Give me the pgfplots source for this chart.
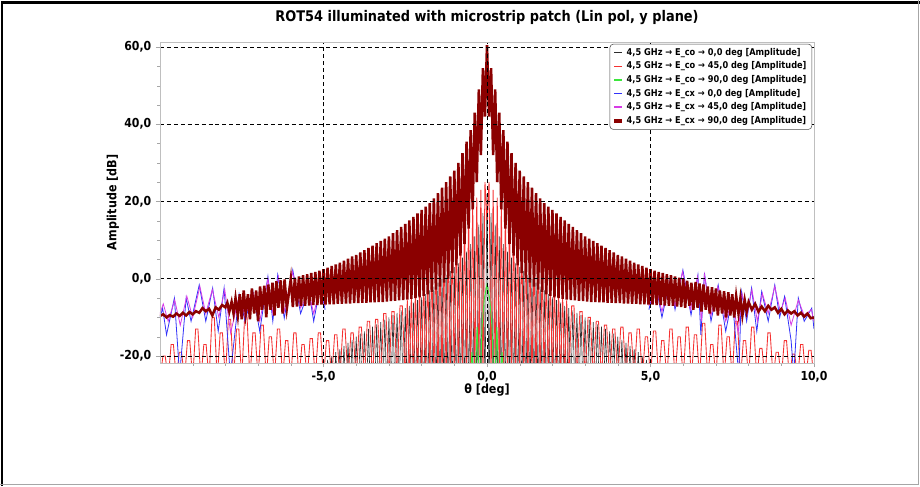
\documentclass[border=0pt]{standalone}
\usepackage{fontspec}
\setmainfont{DejaVu Sans}[FakeStretch=0.88]
\usepackage{pgfplots}
\pgfplotsset{compat=1.18}
\pgfplotsset{thicklegend/.style={legend image code/.code={\draw[##1, line width=2.6pt] (0pt,0pt) -- (6pt,0pt);}}}
\definecolor{cblack}{RGB}{45,45,45}
\definecolor{cred}{RGB}{245,50,50}
\definecolor{cgreen}{RGB}{60,230,60}
\definecolor{cblue}{RGB}{50,50,250}
\definecolor{cmag}{RGB}{215,60,230}
\definecolor{cdred}{RGB}{139,0,0}
\begin{document}
\begin{tikzpicture}
\path[use as bounding box] (-120pt,-92.25pt) rectangle (570pt,272.25pt);
\fill[white] (-120pt,-92.25pt) rectangle (570pt,272.25pt);
\begin{axis}[
 scale only axis, width=490.5pt, height=240.75pt,
 at={(0pt,0pt)}, anchor=south west,
 xmin=-10, xmax=10, ymin=-21.8, ymax=61.3,
 xtick={-5,0,5,10}, xticklabels={{-5,0},{0,0},{5,0},{10,0}},
 ytick={-20,0,20,40,60}, yticklabels={{-20,0},{0,0},{20,0},{40,0},{60,0}},
 minor xtick={-9,-8,...,9}, minor ytick={-15,-10,...,55},
 tick label style={font=\bfseries\fontsize{9.3}{10}\selectfont},
 grid=major,
 major grid style={black, dash pattern=on 3pt off 2.2pt, line width=0.6pt},
 axis on top,
 axis line style={gray!50},
 tick style={gray!70},
 tick align=outside, tick pos=left, major tick length=3pt, minor tick length=2pt,
 title={ROT54 illuminated with microstrip patch (Lin pol, y plane)},
 every axis title/.style={at={(0.5,1.0748)}, anchor=center, font=\bfseries\fontsize{11}{12}\selectfont},
 xlabel={θ [deg]}, ylabel={Amplitude [dB]},
 xlabel style={at={(0.5,-0.0841)}, anchor=center},
 ylabel style={at={(-0.0719,0.5)}, anchor=center},
 label style={font=\bfseries\fontsize{9.5}{11}\selectfont},
 legend style={at={(0.997,0.994)}, anchor=north east, draw=gray!60!black, rounded corners=2.5pt,
   font=\bfseries\fontsize{7}{8}\selectfont, inner xsep=2pt, inner ysep=1pt, row sep=-0.6pt},
 legend cell align=left,
 legend image code/.code={\draw[#1, line width=1.1pt] (0pt,0pt) -- (6pt,0pt);},
 unbounded coords=jump,
]
% E_co 0 deg
\addplot[cblack, line width=0.45pt] coordinates {
(-5,-22)(-4.9375,-30)(-4.875,-21)(-4.8125,-30)(-4.75,-20)(-4.6875,-30)(-4.625,-19)(-4.5625,-30)(-4.5,-18.2)(-4.4375,-30)(-4.375,-17.4)(-4.3125,-30)(-4.25,-16.6)(-4.1875,-30)(-4.125,-15.8)(-4.0625,-30)(-4,-15)(-3.9375,-30)(-3.875,-14.2)(-3.8125,-30)(-3.75,-13.6)(-3.6875,-30)(-3.625,-13)(-3.5625,-30)(-3.5,-12.4)(-3.4375,-30)(-3.375,-11.8)(-3.3125,-30)(-3.25,-11.2)(-3.1875,-30)(-3.125,-10.6)(-3.0625,-30)(-3,-10)(-2.9375,-30)(-2.875,-9.4)(-2.8125,-30)(-2.75,-8.8)(-2.6875,-30)(-2.625,-8.2)(-2.5625,-30)(-2.5,-7.6)(-2.4375,-30)(-2.375,-7)(-2.3125,-30)(-2.25,-6.2)(-2.1875,-30)(-2.125,-5.5)(-2.0625,-30)(-2,-4.8)(-1.9375,-30)(-1.875,-4)(-1.8125,-30)(-1.75,-3)(-1.6875,-30)(-1.625,-2)(-1.5625,-30)(-1.5,-1)(-1.4375,-30)(-1.375,0)(-1.3125,-30)(-1.25,1)(-1.1875,-30)(-1.125,2)(-1.0625,-30)(-1,3)(-0.9375,-30)(-0.875,4)(-0.8125,-30)(-0.75,5.5)(-0.6875,-30)(-0.625,7)(-0.5625,-30)(-0.5,9)(-0.4375,-30)(-0.375,11)(-0.3125,-30)(-0.25,14)(-0.1875,-30)(-0.125,17)(-0.0625,-30)(0,22)
(0.0625,-30)(0.125,17)(0.1875,-30)(0.25,14)(0.3125,-30)(0.375,11)(0.4375,-30)(0.5,9)(0.5625,-30)(0.625,7)(0.6875,-30)(0.75,5.5)(0.8125,-30)(0.875,4)(0.9375,-30)(1,3)(1.0625,-30)(1.125,2)(1.1875,-30)(1.25,1)(1.3125,-30)(1.375,0)(1.4375,-30)(1.5,-1)(1.5625,-30)(1.625,-2)(1.6875,-30)(1.75,-3)(1.8125,-30)(1.875,-4)(1.9375,-30)(2,-4.8)(2.0625,-30)(2.125,-5.5)(2.1875,-30)(2.25,-6.2)(2.3125,-30)(2.375,-7)(2.4375,-30)(2.5,-7.6)(2.5625,-30)(2.625,-8.2)(2.6875,-30)(2.75,-8.8)(2.8125,-30)(2.875,-9.4)(2.9375,-30)(3,-10)(3.0625,-30)(3.125,-10.6)(3.1875,-30)(3.25,-11.2)(3.3125,-30)(3.375,-11.8)(3.4375,-30)(3.5,-12.4)(3.5625,-30)(3.625,-13)(3.6875,-30)(3.75,-13.6)(3.8125,-30)(3.875,-14.2)(3.9375,-30)(4,-15)(4.0625,-30)(4.125,-15.8)(4.1875,-30)(4.25,-16.6)(4.3125,-30)(4.375,-17.4)(4.4375,-30)(4.5,-18.2)(4.5625,-30)(4.625,-19)(4.6875,-30)(4.75,-20)(4.8125,-30)(4.875,-21)(4.9375,-30)(5,-22)
};
\addlegendentry{4,5 GHz → E\_co → 0,0 deg [Amplitude]}
% E_co 45 deg
\addplot[cred, line width=0.65pt] coordinates {
(-10,-26)(-9.91,-20)(-9.84,-20)(-9.75,-26)(-9.66,-17)(-9.59,-17)(-9.5,-26)(-9.41,-19)(-9.34,-19)(-9.25,-26)(-9.16,-16)(-9.09,-16)(-9,-26)(-8.91,-13)(-8.84,-13)(-8.75,-26)(-8.66,-17)(-8.59,-17)(-8.5,-26)(-8.41,-10)(-8.34,-10)(-8.25,-26)(-8.16,-14)(-8.09,-14)(-8,-26)(-7.91,-10.5)(-7.84,-10.5)(-7.75,-26)(-7.66,-13)(-7.59,-13)(-7.5,-26)(-7.41,-9.5)(-7.34,-9.5)(-7.25,-26)(-7.16,-14)(-7.09,-14)(-7,-26)(-6.91,-12)(-6.84,-12)(-6.75,-26)(-6.66,-15)(-6.59,-15)(-6.5,-26)(-6.41,-13)(-6.34,-13)(-6.25,-26)(-6.16,-16)(-6.09,-16)(-6,-26)(-5.91,-14)(-5.84,-14)(-5.75,-26)(-5.66,-17)(-5.59,-17)(-5.5,-26)(-5.41,-15.5)(-5.34,-15.5)(-5.25,-26)(-5.16,-14)(-5.09,-14)(-5,-26)(-4.91,-16)(-4.84,-16)(-4.75,-26)(-4.66,-14.5)(-4.59,-14.5)(-4.5,-26)(-4.41,-13)(-4.34,-13)(-4.25,-26)(-4.16,-14)(-4.09,-14)(-4,-26)(-3.91,-12.5)(-3.84,-12.5)(-3.75,-26)(-3.66,-11)(-3.59,-11)(-3.5,-26)(-3.41,-10.5)(-3.34,-10.5)(-3.25,-26)(-3.16,-9)(-3.09,-9)(-3,-26)(-2.91,-8.5)(-2.84,-8.5)(-2.75,-26)(-2.66,-7)(-2.59,-7)(-2.5,-26)
(-2.4375,-5.5)(-2.375,-26)(-2.3125,-4)(-2.25,-26)(-2.1875,-2.5)(-2.125,-26)(-2.0625,-1)(-2,-26)(-1.9375,0.5)(-1.875,-26)(-1.8125,2)(-1.75,-26)(-1.6875,3.5)(-1.625,-26)(-1.5625,5)(-1.5,-26)(-1.4375,6.5)(-1.375,-26)(-1.3125,8)(-1.25,-26)(-1.1875,9.5)(-1.125,-26)(-1.0625,11)(-1,-26)(-0.9375,12.5)(-0.875,-26)(-0.8125,14)(-0.75,-26)(-0.6875,15.5)(-0.625,-26)(-0.5625,17)(-0.5,-26)(-0.4375,19)(-0.375,-26)(-0.3125,21)(-0.25,-26)(-0.1875,23)(-0.125,-26)(-0.0625,25)(0,15)
(0.0625,25)(0.125,-26)(0.1875,23)(0.25,-26)(0.3125,21)(0.375,-26)(0.4375,19)(0.5,-26)(0.5625,17)(0.625,-26)(0.6875,15.5)(0.75,-26)(0.8125,14)(0.875,-26)(0.9375,12.5)(1,-26)(1.0625,11)(1.125,-26)(1.1875,9.5)(1.25,-26)(1.3125,8)(1.375,-26)(1.4375,6.5)(1.5,-26)(1.5625,5)(1.625,-26)(1.6875,3.5)(1.75,-26)(1.8125,2)(1.875,-26)(1.9375,0.5)(2,-26)(2.0625,-1)(2.125,-26)(2.1875,-2.5)(2.25,-26)(2.3125,-4)(2.375,-26)(2.4375,-5.5)(2.5,-26)
(2.59,-7)(2.66,-7)(2.75,-26)(2.84,-8.5)(2.91,-8.5)(3,-26)(3.09,-10)(3.16,-10)(3.25,-26)(3.34,-11)(3.41,-11)(3.5,-26)(3.59,-12)(3.66,-12)(3.75,-26)(3.84,-13)(3.91,-13)(4,-26)(4.09,-12.5)(4.16,-12.5)(4.25,-26)(4.34,-14)(4.41,-14)(4.5,-26)(4.59,-13)(4.66,-13)(4.75,-26)(4.84,-15)(4.91,-15)(5,-26)(5.09,-13.5)(5.16,-13.5)(5.25,-26)(5.34,-16)(5.41,-16)(5.5,-26)(5.59,-13)(5.66,-13)(5.75,-26)(5.84,-15)(5.91,-15)(6,-26)(6.09,-12.5)(6.16,-12.5)(6.25,-26)(6.34,-14.5)(6.41,-14.5)(6.5,-26)(6.59,-11.5)(6.66,-11.5)(6.75,-26)(6.84,-17)(6.91,-17)(7,-26)(7.09,-12)(7.16,-12)(7.25,-26)(7.34,-15)(7.41,-15)(7.5,-26)(7.59,-11)(7.66,-11)(7.75,-26)(7.84,-16)(7.91,-16)(8,-26)(8.09,-12.5)(8.16,-12.5)(8.25,-26)(8.34,-18)(8.41,-18)(8.5,-26)(8.59,-14)(8.66,-14)(8.75,-26)(8.84,-19)(8.91,-19)(9,-26)(9.09,-16)(9.16,-16)(9.25,-26)(9.34,-19.5)(9.41,-19.5)(9.5,-26)(9.59,-17)(9.66,-17)(9.75,-26)(9.84,-18.5)(9.91,-18.5)(10,-26)
};
\addlegendentry{4,5 GHz → E\_co → 45,0 deg [Amplitude]}
% E_co 90 deg
\addplot[cgreen, line width=0.7pt] coordinates {
(-0.55,-30)(-0.46,-19)(-0.38,-30)(-0.3,-12.5)(-0.22,-30)(-0.15,-12)(-0.08,-5)(0,-1.5)(0.08,-5)(0.15,-12)(0.22,-30)(0.3,-12.5)(0.38,-30)(0.46,-19)(0.55,-30)
};
\addlegendentry{4,5 GHz → E\_co → 90,0 deg [Amplitude]}
% E_cx 0 deg
\addplot[cblue, line width=0.6pt] coordinates {
(-10,-10)(-9.92,-7.6)(-9.8,-14.5)(-9.56,-5)(-9.4,-25)(-9.2,-5)(-9.05,-11)(-8.8,-1.6)(-8.6,-11)(-8.39,-2.4)(-8.22,-13.6)(-8.04,-2.4)(-7.85,-25)(-7.58,-4)(-7.4,-11)(-7.16,-3.3)(-6.95,-13.6)(-6.7,0.6)(-6.55,-11)(-6.4,1)(-6.2,-10.2)(-5.94,2.3)(-5.7,-9)(-5.45,-3)(-5.3,-11)(-5.1,-2)(-4.95,-8)
(0,nan)
(4.95,-8)(5.15,-1)(5.35,-10)(5.6,0)(5.75,-8)(5.99,2.3)(6.24,-9.4)(6.45,1)(6.54,-14.5)(6.65,1.5)(6.85,-11)(7.07,-1.6)(7.3,-13.6)(7.5,-5)(7.7,-25)(7.78,-3.3)(7.94,-11)(8.09,-2.4)(8.25,-13.6)(8.4,-3.3)(8.6,-11)(8.8,-1.6)(8.95,-10)(9.1,-4.6)(9.3,-16)(9.38,-25)(9.52,-5)(9.7,-11)(9.93,-7.6)(10,-13)
};
\addlegendentry{4,5 GHz → E\_cx → 0,0 deg [Amplitude]}
% E_cx 45 deg
\addplot[cmag, line width=0.6pt] coordinates {
(-10,-9)(-9.9,-6.5)(-9.75,-11)(-9.55,-5.5)(-9.38,-12)(-9.18,-4.5)(-9,-10)(-8.78,-2)(-8.6,-9)(-8.4,-2.8)(-8.2,-10)(-8.02,-2.8)(-7.84,-14)(-7.58,-4.5)(-7.4,-9.5)(-7.15,-3.8)(-6.95,-11)(-6.7,0)(-6.55,-9)(-6.38,0.5)(-6.2,-8.5)(-5.95,1.8)(-5.7,-7.5)(-5.45,-3.5)(-5.3,-9)(-5.1,-2.5)(-4.95,-7)
(0,nan)
(4.95,-7)(5.15,-1.5)(5.35,-8.5)(5.6,-0.5)(5.75,-7)(5.98,1.8)(6.22,-8)(6.44,0.5)(6.56,-11)(6.65,1)(6.85,-9.5)(7.06,-2)(7.3,-11)(7.5,-5.5)(7.68,-14)(7.8,-3.8)(7.95,-9.5)(8.1,-2.8)(8.27,-11)(8.42,-3.8)(8.6,-9)(8.8,-2)(8.97,-8.5)(9.12,-5)(9.3,-12)(9.52,-5.5)(9.7,-9.5)(9.92,-8)(10,-11)
};
\addlegendentry{4,5 GHz → E\_cx → 45,0 deg [Amplitude]}
% E_cx 90 deg
\addplot[cdred, line width=1.9pt, thicklegend] coordinates {
(-10,-9.6)(-9.9,-9.2)(-9.8,-10)(-9.7,-9.4)(-9.6,-9.8)(-9.5,-9)(-9.4,-9.6)(-9.3,-8.8)(-9.2,-9.5)(-9.1,-8.6)(-9,-9.2)(-8.9,-8.4)(-8.8,-8.8)(-8.7,-7.6)(-8.6,-8.4)(-8.5,-7.8)(-8.4,-9.5)(-8.3,-7.4)(-8.2,-8)(-8.1,-6.8)(-8,-7.4)(-7.94,-6.2)(-7.88,-8.5)(-7.81,-6)(-7.75,-9)(-7.69,-5)(-7.62,-9.5)(-7.56,-4)(-7.5,-10.5)(-7.44,-3)(-7.38,-9)(-7.31,-4)(-7.25,-10.5)(-7.19,-2.5)(-7.12,-9)(-7.06,-3)(-7,-11)(-6.94,-2)(-6.88,-8)(-6.81,-1.8)(-6.75,-10)(-6.69,-1.5)(-6.62,-8)(-6.56,-1)(-6.5,-9.5)(-6.44,-0.6)(-6.38,-7.5)(-6.31,-0.4)(-6.25,-9)(-6.19,-0.2)(-6.12,-7.6)
(-6,0)(-5.9375,-7.3)(-5.875,0.3)(-5.8125,-7.2)(-5.75,0.6)(-5.6875,-7)(-5.625,0.9)(-5.5625,-7)(-5.5,1.2)(-5.4375,-6.9)(-5.375,1.5)(-5.3125,-6.8)(-5.25,1.8)(-5.1875,-6.8)(-5.125,2.1)(-5.0625,-6.7)(-5,2.5)(-4.9375,-6.7)(-4.875,2.9)(-4.8125,-6.6)(-4.75,3.3)(-4.6875,-6.6)(-4.625,3.7)(-4.5625,-6.5)(-4.5,4.2)(-4.4375,-6.5)(-4.375,4.7)(-4.3125,-6.4)(-4.25,5.2)(-4.1875,-6.4)(-4.125,5.8)(-4.0625,-6.3)(-4,6.2)(-3.9375,-6.3)(-3.875,6.8)(-3.8125,-6.2)(-3.75,7.4)(-3.6875,-6.2)(-3.625,8)(-3.5625,-6.1)(-3.5,8.6)(-3.4375,-6.1)(-3.375,9.2)(-3.3125,-6)(-3.25,9.8)(-3.1875,-6)(-3.125,10.4)(-3.0625,-5.9)(-3,11)(-2.9375,-5.8)(-2.875,11.8)(-2.8125,-5.7)(-2.75,12.6)(-2.6875,-5.6)(-2.625,13.4)(-2.5625,-5.5)(-2.5,14.2)(-2.4375,-5.4)(-2.375,15.1)(-2.3125,-5.2)(-2.25,16)(-2.1875,-5)(-2.125,16.9)(-2.0625,-4.8)(-2,17.8)(-1.9375,-4.4)(-1.875,18.7)(-1.8125,-4)(-1.75,19.6)(-1.6875,-3.4)(-1.625,20.8)(-1.5625,-2.8)(-1.5,22.2)(-1.4375,-2)(-1.375,23.6)(-1.3125,-1)(-1.25,25)(-1.1875,0)(-1.125,26.5)(-1.0625,1.5)(-1,28)(-0.9375,3.5)(-0.875,30)(-0.8125,6)(-0.75,32.5)(-0.6875,9)(-0.625,35.5)(-0.5625,13)(-0.5,38.5)(-0.4375,18)(-0.375,43)(-0.3125,25)(-0.25,49)(-0.1875,32)(-0.125,54.5)(-0.0625,42)(0,60.5)
(0.0625,42)(0.125,54.5)(0.1875,32)(0.25,49)(0.3125,25)(0.375,43)(0.4375,18)(0.5,38.5)(0.5625,13)(0.625,35.5)(0.6875,9)(0.75,32.5)(0.8125,6)(0.875,30)(0.9375,3.5)(1,28)(1.0625,1.5)(1.125,26.5)(1.1875,0)(1.25,25)(1.3125,-1)(1.375,23.6)(1.4375,-2)(1.5,22.2)(1.5625,-2.8)(1.625,20.8)(1.6875,-3.4)(1.75,19.6)(1.8125,-4)(1.875,18.7)(1.9375,-4.4)(2,17.8)(2.0625,-4.8)(2.125,16.9)(2.1875,-5)(2.25,16)(2.3125,-5.2)(2.375,15.1)(2.4375,-5.4)(2.5,14.2)(2.5625,-5.5)(2.625,13.4)(2.6875,-5.6)(2.75,12.6)(2.8125,-5.7)(2.875,11.8)(2.9375,-5.8)(3,11)(3.0625,-5.9)(3.125,10.4)(3.1875,-6)(3.25,9.8)(3.3125,-6)(3.375,9.2)(3.4375,-6.1)(3.5,8.6)(3.5625,-6.1)(3.625,8)(3.6875,-6.2)(3.75,7.4)(3.8125,-6.2)(3.875,6.8)(3.9375,-6.3)(4,6.2)(4.0625,-6.3)(4.125,5.8)(4.1875,-6.4)(4.25,5.2)(4.3125,-6.4)(4.375,4.7)(4.4375,-6.5)(4.5,4.2)(4.5625,-6.5)(4.625,3.7)(4.6875,-6.6)(4.75,3.3)(4.8125,-6.6)(4.875,2.9)(4.9375,-6.7)(5,2.5)(5.0625,-6.7)(5.125,2.1)(5.1875,-6.8)(5.25,1.8)(5.3125,-6.8)(5.375,1.5)(5.4375,-6.9)(5.5,1.2)(5.5625,-7)(5.625,0.9)(5.6875,-7)(5.75,0.6)(5.8125,-7.2)(5.875,0.3)(5.9375,-7.3)(6,0)
(6.06,-7.5)(6.12,-0.5)(6.19,-7)(6.25,-1)(6.31,-8)(6.38,-0.8)(6.44,-7.5)(6.5,-1.2)(6.56,-8.5)(6.62,-1.5)(6.69,-8)(6.75,-2)(6.81,-9)(6.88,-2.2)(6.94,-8.5)(7,-2.5)(7.06,-9.5)(7.12,-3)(7.19,-9)(7.25,-3.2)(7.31,-10)(7.38,-3.5)(7.44,-9.5)(7.5,-4)(7.56,-10)(7.62,-4.5)(7.69,-9)(7.75,-5)(7.81,-9.5)(7.88,-5.5)(7.94,-8.5)(8,-6)(8.1,-8)(8.2,-6.5)(8.3,-8.5)(8.4,-7.2)(8.5,-8.4)(8.6,-7)(8.7,-8)(8.8,-7.4)(8.9,-8.8)(9,-7.8)(9.1,-9.2)(9.2,-8.2)(9.3,-9)(9.4,-8.4)(9.5,-9.5)(9.6,-8.8)(9.7,-9.8)(9.8,-9)(9.9,-10.2)(10,-10)
};
\addlegendentry{4,5 GHz → E\_cx → 90,0 deg [Amplitude]}
\end{axis}
\draw[black, line width=2pt] (-118.5pt,-92.25pt) -- (-118.5pt,270.6pt) -- (570pt,270.6pt);
\draw[gray!70, line width=1pt] (568.8pt,272.25pt) -- (568.8pt,-91.2pt) -- (-120pt,-91.2pt);
\end{tikzpicture}
\end{document}
